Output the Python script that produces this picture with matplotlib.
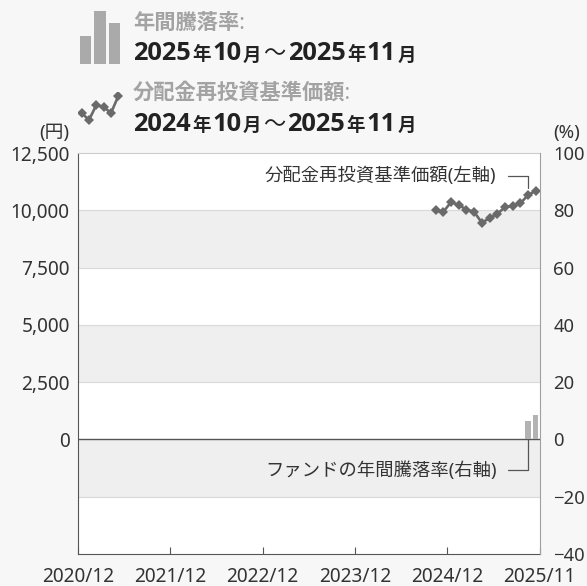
import matplotlib
matplotlib.use('Agg')
import matplotlib.pyplot as plt
from matplotlib.ticker import FuncFormatter

plt.rcParams['font.family'] = ['Noto Sans', 'Noto Sans CJK JP', 'DejaVu Sans']

# ---- data ----
nav_months = ['2024/10', '2024/11', '2024/12', '2025/01', '2025/02', '2025/03', '2025/04',
              '2025/05', '2025/06', '2025/07', '2025/08', '2025/09', '2025/10', '2025/11']
nav_values = [10000, 9930, 10360, 10230, 10030, 9930, 9460,
              9650, 9840, 10130, 10200, 10300, 10660, 10850]
ret_months = ['2025/10', '2025/11']
ret_values = [6.3, 8.7]
x_tick_pos = [0, 12, 24, 36, 48, 60]
x_tick_labels = ['2020/12', '2021/12', '2022/12', '2023/12', '2024/12', '2025/11']
left_ticks = [0, 2500, 5000, 7500, 10000, 12500]
right_ticks = [-40, -20, 0, 20, 40, 60, 80, 100]
band_ranges = [(7500, 10000), (2500, 5000), (-2500, 0)]
grid_levels = [-2500, 2500, 5000, 7500, 10000]
icon_bar_values = [0.52, 1.0, 0.77]
icon_line_values = [11, 4, 19, 17, 11, 28]

W, H = 587, 586


def month_pos(s):
    y, m = map(int, s.split('/'))
    return (y - 2020) * 12 + (m - 12) + 0.5


fig = plt.figure(figsize=(W / 100, H / 100), dpi=100, facecolor='#f7f7f7')
ax = fig.add_axes([78 / W, 1 - 554 / H, (539.5 - 78) / W, (554 - 153) / H])
ax.set_facecolor('white')
ax.set_xlim(0, 60)
ax.set_ylim(-5000, 12500)
ax2 = ax.twinx()
ax2.set_ylim(-40, 100)

for lo, hi in band_ranges:
    ax.axhspan(lo, hi, color='#efefef', lw=0, zorder=0)
for g in grid_levels:
    ax.axhline(g, color='#d9d9d9', lw=0.8, zorder=0.5)
ax.axhline(0, color='#555555', lw=1.0, zorder=1)

# NAV line
xs = [month_pos(m) for m in nav_months]
ax.plot(xs, nav_values, color='#6a6a6a', lw=1.9, marker='D', markersize=5.2,
        markeredgewidth=0, zorder=3)

# return bars
bx = [month_pos(m) for m in ret_months]
ax2.bar(bx, ret_values, width=0.72, color='#b3b3b3', zorder=3)

# axes styling
ax.set_yticks(left_ticks)
ax.yaxis.set_major_formatter(FuncFormatter(lambda v, p: f'{v:,.0f}'))
ax.tick_params(axis='y', length=0, pad=6, labelsize=13.7, labelcolor='#333333')
ax2.set_yticks(right_ticks)
ax2.set_yticklabels([str(v).replace('-', '\u2212') for v in right_ticks])
ax2.tick_params(axis='y', length=0, pad=10, labelsize=13.3, labelcolor='#333333')
ax.set_xticks(x_tick_pos)
ax.set_xticklabels(x_tick_labels)
ax.tick_params(axis='x', direction='in', length=5, width=0.8, color='#555555',
               pad=9, labelsize=13.7, labelcolor='#333333')

ax.spines['right'].set_visible(False)
ax.spines['top'].set_color('#cccccc')
ax.spines['top'].set_linewidth(0.8)
ax.spines['left'].set_color('#555555')
ax.spines['bottom'].set_color('#555555')
for s in ['left', 'top', 'bottom']:
    ax2.spines[s].set_visible(False)
ax2.spines['right'].set_color('#a0a0a0')

# annotations
i10 = nav_months.index('2025/10')
ax.annotate('分配金再投資基準価額(左軸)', xy=(month_pos('2025/10'), nav_values[i10]),
            xytext=(-22.7, 13.7), textcoords='offset points', ha='right', va='center',
            fontsize=13.2, color='#333333',
            arrowprops=dict(arrowstyle='-', color='#555555', lw=0.9,
                            connectionstyle='angle,angleA=0,angleB=90,rad=0',
                            relpos=(1, 0.5), shrinkA=6, shrinkB=5), zorder=5)
ax2.annotate('ファンドの年間騰落率(右軸)', xy=(month_pos('2025/10'), 0),
             xytext=(-22.7, -22.3), textcoords='offset points', ha='right', va='center',
             fontsize=13.2, color='#333333',
             arrowprops=dict(arrowstyle='-', color='#555555', lw=0.9,
                             connectionstyle='angle,angleA=0,angleB=90,rad=0',
                             relpos=(1, 0.5), shrinkA=6, shrinkB=0), zorder=5)

# units
fig.text(69 / W, 1 - 133 / H, '(円)', ha='right', va='center', fontsize=13.5, color='#333333')
fig.text(553 / W, 1 - 133 / H, '(%)', ha='left', va='center', fontsize=13.5, color='#333333')

# legend icons
axb = fig.add_axes([78 / W, 1 - 64 / H, 44 / W, 53 / H])
axb.bar(range(len(icon_bar_values)), icon_bar_values, width=0.78, color='#aaaaaa')
axb.set_xlim(-0.5, 2.5)
axb.set_ylim(0, 1)
axb.axis('off')

axl = fig.add_axes([78 / W, 1 - 124 / H, 44 / W, 32 / H])
axl.plot(range(len(icon_line_values)), icon_line_values, color='#6a6a6a', lw=1.9,
         marker='D', markersize=5.2, markeredgewidth=0)
axl.set_xlim(-0.5, 5.5)
axl.set_ylim(0, 32)
axl.axis('off')

# legend texts
fig.text(133 / W, 1 - 23 / H, '年間騰落率:', ha='left', va='center', fontsize=15.3,
         fontweight='bold', color='#a3a3a3')
fig.text(133 / W, 1 - 93 / H, '分配金再投資基準価額:', ha='left', va='center', fontsize=15.3,
         fontweight='bold', color='#a3a3a3')

renderer = fig.canvas.get_renderer()
BOLD_FAM = ['Open Sans', 'Noto Sans CJK JP', 'DejaVu Sans']


def runs(x_px, base_px, parts):
    x = x_px
    for s, size, weight, gap_before, gap_after in parts:
        x += gap_before
        t = fig.text(x / W, 1 - base_px / H, s, ha='left', va='baseline', fontsize=size,
                     fontweight=weight, color='#222222', family=BOLD_FAM)
        bb = t.get_window_extent(renderer)
        x += bb.width + gap_after


def period(a, b):
    ya, ma = a.split('/')
    yb, mb = b.split('/')
    d, c = 18.3, 13.3
    return [(ya, d, 'bold', 0, 1.5), ('年', c, 'bold', 0, 1.5),
            (str(int(ma)), d, 'bold', 0, 1.5), ('月', c, 'bold', 0, 0),
            ('〜', 16, 'normal', 2, 2),
            (yb, d, 'bold', 0, 1.5), ('年', c, 'bold', 0, 1.5),
            (str(int(mb)), d, 'bold', 0, 1.5), ('月', c, 'bold', 0, 0)]


runs(133, 60.5, period(ret_months[0], ret_months[-1]))
runs(133, 131, period(nav_months[0], nav_months[-1]))

fig.savefig('out.png', dpi=100, facecolor=fig.get_facecolor())
